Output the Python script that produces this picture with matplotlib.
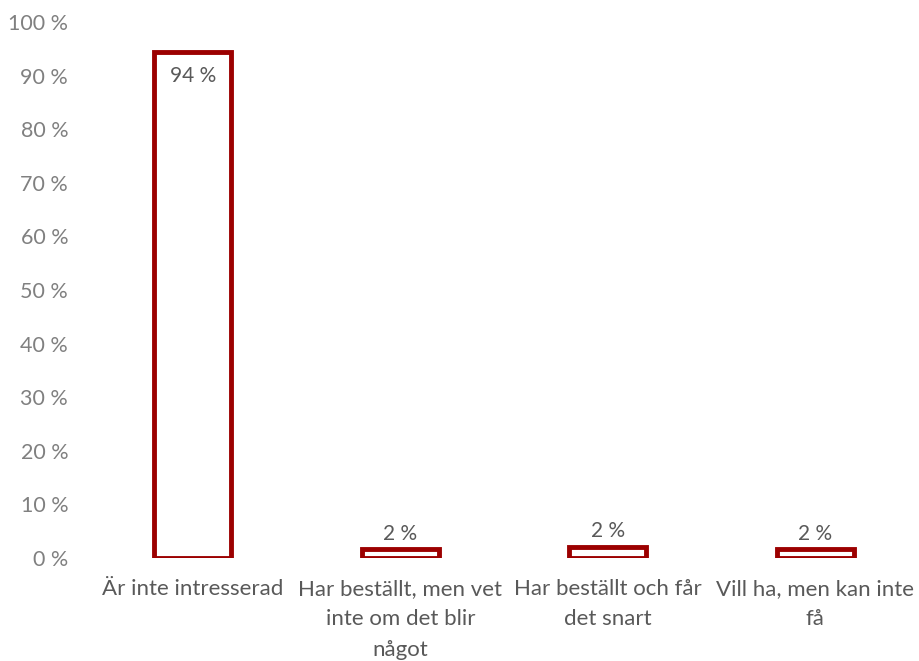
import matplotlib.pyplot as plt
from matplotlib.ticker import FuncFormatter

plt.rcParams['font.family'] = ['Lato', 'DejaVu Sans']

categories = ["Är inte intresserad",
              "Har beställt, men vet\ninte om det blir\nnågot",
              "Har beställt och får\ndet snart",
              "Vill ha, men kan inte\nfå"]
values = [94.4, 1.6, 2.1, 1.6]
labels = ["94 %", "2 %", "2 %", "2 %"]
yticks = list(range(0, 101, 10))

fig = plt.figure(figsize=(9.19, 6.61), dpi=100)
ax = fig.add_axes([89 / 919, 103 / 661, 830 / 919, 536 / 661])

x = range(len(categories))
ax.bar(x, values, width=0.37, facecolor="white", edgecolor="#9c0000", linewidth=3.5)

for i, (v, lab) in enumerate(zip(values, labels)):
    if v > 50:
        ax.text(i, v - 2.6, lab, ha="center", va="top", fontsize=15, color="#595959")
    else:
        ax.text(i, v + 1.0, lab, ha="center", va="bottom", fontsize=15, color="#595959")

ax.set_xlim(-0.5, 3.5)
ax.set_ylim(0, 100)
ax.set_yticks(yticks)
ax.yaxis.set_major_formatter(FuncFormatter(lambda v, p: f"{int(v)} %"))
ax.set_xticks(list(x))
ax.set_xticklabels(categories, fontsize=16, color="#595959", linespacing=1.66)
ax.tick_params(axis="y", length=0, pad=15, labelsize=15.5, labelcolor="#808080")
ax.tick_params(axis="x", length=0, pad=15)
for s in ax.spines.values():
    s.set_visible(False)

fig.savefig("out.png", dpi=100)
